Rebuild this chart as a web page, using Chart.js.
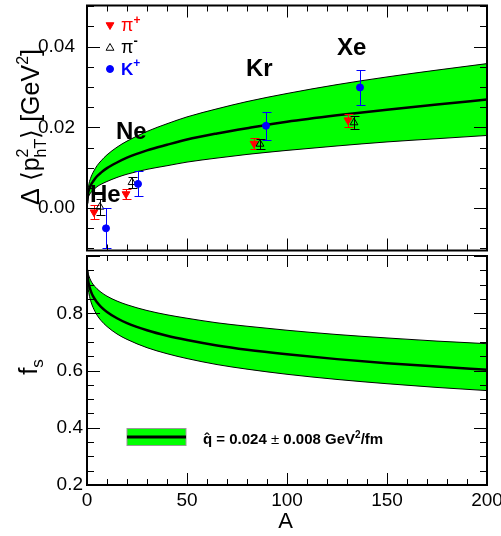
<!DOCTYPE html>
<html>
<head>
<meta charset="utf-8">
<script src="https://cdn.jsdelivr.net/npm/chart.js@4.4.0/dist/chart.umd.min.js"></script>
<style>
  html, body { margin: 0; padding: 0; background: #fff; }
  #wrap { position: relative; width: 501px; height: 536px; }
  #top { position: absolute; left: 0; top: 0; }
  #bot { position: absolute; left: 0; top: 255px; }
</style>
</head>
<body>
<div id="wrap">
  <canvas id="top" width="501" height="256"></canvas>
  <canvas id="bot" width="501" height="281"></canvas>
</div>
<script>
// Model band
const curveA = [0.1, 0.5, 1, 2, 3, 5, 7, 10, 15, 20, 30, 40, 50, 65, 80, 100, 125, 150, 175, 200];
const dptCentral = [0.0012, 0.0035, 0.0046, 0.0058, 0.0066, 0.0079, 0.0088, 0.0099, 0.0113, 0.0125, 0.0143, 0.0157, 0.0170, 0.0185, 0.0198, 0.0214, 0.0230, 0.0244, 0.0257, 0.0269];
const dptUpper = [0.0014, 0.0046, 0.0061, 0.0077, 0.0088, 0.0105, 0.0117, 0.0132, 0.0151, 0.0166, 0.0190, 0.0209, 0.0226, 0.0246, 0.0264, 0.0284, 0.0306, 0.0325, 0.0342, 0.0358];
const dptLower = [0.0010, 0.0024, 0.0031, 0.0039, 0.0044, 0.0053, 0.0059, 0.0066, 0.0076, 0.0084, 0.0096, 0.0105, 0.0114, 0.0124, 0.0133, 0.0143, 0.0154, 0.0164, 0.0172, 0.0180];
const fsCentral = [0.950, 0.918, 0.899, 0.876, 0.860, 0.839, 0.823, 0.805, 0.783, 0.766, 0.741, 0.722, 0.707, 0.688, 0.673, 0.657, 0.640, 0.626, 0.614, 0.603];
const fsUpper = [0.966, 0.943, 0.930, 0.913, 0.902, 0.886, 0.874, 0.860, 0.843, 0.830, 0.810, 0.795, 0.783, 0.767, 0.755, 0.741, 0.726, 0.714, 0.703, 0.694];
const fsLower = [0.934, 0.893, 0.868, 0.840, 0.821, 0.794, 0.775, 0.754, 0.728, 0.709, 0.680, 0.659, 0.642, 0.621, 0.605, 0.587, 0.569, 0.554, 0.541, 0.530];

// Measured points (He, Ne, Kr, Xe), slightly shifted in A for visibility
const nuclei = ['He', 'Ne', 'Kr', 'Xe'];
const piPlusA = [3.5, 19.5, 83.5, 130.5];
const piPlusVal = [-0.0010, 0.0035, 0.0160, 0.0218];
const piPlusErr = [0.0017, 0.0012, 0.0013, 0.0016];
const piMinusA = [6.5, 22.5, 86.5, 133.5];
const piMinusVal = [0.0003, 0.0064, 0.0159, 0.0212];
const piMinusErr = [0.0020, 0.0014, 0.0013, 0.0015];
const kPlusA = [9.5, 25.5, 89.5, 136.5];
const kPlusVal = [-0.0050, 0.0060, 0.0204, 0.0299];
const kPlusErr = [0.0050, 0.0031, 0.0034, 0.0043];

const FONT = "'Liberation Sans', Arial, Helvetica, sans-serif";
const GREEN = '#00ff00';

function isMult(v, step) {
  const r = v / step;
  return Math.abs(r - Math.round(r)) < 1e-6;
}
function pts(xs, ys) { return xs.map((x, i) => ({ x: x, y: ys[i] })); }

// draw a run of text pieces: {t, size, bold, dy, noAdv}
function richWidth(ctx, parts) {
  let w = 0;
  parts.forEach(p => {
    ctx.font = (p.bold ? 'bold ' : '') + p.size + 'px ' + FONT;
    if (!p.noAdv) w += ctx.measureText(p.t).width;
  });
  return w;
}
function richText(ctx, x, y, parts) {
  let cx = x;
  parts.forEach(p => {
    ctx.font = (p.bold ? 'bold ' : '') + p.size + 'px ' + FONT;
    ctx.fillText(p.t, cx, y + (p.dy || 0));
    if (!p.noAdv) cx += ctx.measureText(p.t).width;
  });
}

// frame with inward ticks on all four sides
function framePlugin(xMajor, yMajor) {
  return {
    id: 'frame',
    afterDraw(chart) {
      const { ctx, chartArea: a, scales: { x, y } } = chart;
      ctx.save();
      ctx.strokeStyle = '#000';
      ctx.lineWidth = 1;
      ctx.beginPath();
      x.ticks.forEach(t => {
        const p = Math.round(x.getPixelForValue(t.value)) + 0.5;
        const len = isMult(t.value, xMajor) ? 12 : 6;
        ctx.moveTo(p, a.top); ctx.lineTo(p, a.top + len);
        ctx.moveTo(p, a.bottom); ctx.lineTo(p, a.bottom - len);
      });
      y.ticks.forEach(t => {
        const p = Math.round(y.getPixelForValue(t.value)) + 0.5;
        const len = isMult(t.value, yMajor) ? 13 : 7;
        ctx.moveTo(a.left, p); ctx.lineTo(a.left + len, p);
        ctx.moveTo(a.right, p); ctx.lineTo(a.right - len, p);
      });
      ctx.stroke();
      ctx.lineWidth = 2;
      ctx.strokeRect(a.left, a.top, a.right - a.left, a.bottom - a.top);
      ctx.restore();
    }
  };
}

// vertical error bars drawn just before each marker set
const errorBars = {
  id: 'errorBars',
  beforeDatasetDraw(chart, args) {
    const ds = chart.data.datasets[args.index];
    if (!ds.errors) return;
    const { ctx, scales: { x, y } } = chart;
    ctx.save();
    ctx.strokeStyle = ds.pointBorderColor;
    ctx.lineWidth = 1;
    ctx.beginPath();
    ds.data.forEach((p, i) => {
      const px = Math.round(x.getPixelForValue(p.x)) + 0.5;
      const lo = Math.round(y.getPixelForValue(p.y - ds.errors[i])) + 0.5;
      const hi = Math.round(y.getPixelForValue(p.y + ds.errors[i])) + 0.5;
      ctx.moveTo(px, lo); ctx.lineTo(px, hi);
      ctx.moveTo(px - 4, lo); ctx.lineTo(px + 5, lo);
      ctx.moveTo(px - 4, hi); ctx.lineTo(px + 5, hi);
    });
    ctx.stroke();
    ctx.restore();
  }
};

const markerStyles = {
  piPlus: { pointStyle: 'triangle', rotation: 180, radius: 4.5, fill: '#ff0000', stroke: '#ff0000' },
  piMinus: { pointStyle: 'triangle', rotation: 0, radius: 4.5, fill: 'rgba(0,0,0,0)', stroke: '#000000' },
  kPlus: { pointStyle: 'circle', rotation: 0, radius: 3.5, fill: '#0000ff', stroke: '#0000ff' }
};

function markerSet(xs, ys, errs, st, order) {
  return {
    data: pts(xs, ys), errors: errs, showLine: false, order: order,
    pointStyle: st.pointStyle, pointRotation: st.rotation, pointRadius: st.radius,
    pointBackgroundColor: st.fill, pointBorderColor: st.stroke, pointBorderWidth: 1,
    borderColor: st.stroke, backgroundColor: st.fill
  };
}

function bandSets(up, lo, mid) {
  const common = { pointRadius: 0, cubicInterpolationMode: 'monotone', borderColor: '#000' };
  return [
    Object.assign({ data: pts(curveA, up), borderWidth: 1, backgroundColor: GREEN, fill: '+1', order: 5 }, common),
    Object.assign({ data: pts(curveA, lo), borderWidth: 1, fill: false, order: 4 }, common),
    Object.assign({ data: pts(curveA, mid), borderWidth: 2.5, fill: false, order: 3 }, common)
  ];
}

const topDecor = {
  id: 'topDecor',
  afterDraw(chart) {
    const ctx = chart.ctx;
    ctx.save();
    // legend markers
    const drawMark = (st, x, y) => {
      ctx.fillStyle = st.fill; ctx.strokeStyle = st.stroke; ctx.lineWidth = 1;
      Chart.helpers.drawPoint(ctx, { pointStyle: st.pointStyle, rotation: st.rotation, radius: st.radius, borderWidth: 1 }, x, y);
    };
    drawMark(markerStyles.piPlus, 110, 25);
    drawMark(markerStyles.piMinus, 110, 48);
    drawMark(markerStyles.kPlus, 110, 69);
    ctx.textBaseline = 'alphabetic';
    ctx.textAlign = 'left';
    ctx.fillStyle = '#ff0000';
    richText(ctx, 121, 30.5, [{ t: 'π', size: 18 }, { t: '+', size: 12, bold: true, dy: -7 }]);
    ctx.fillStyle = '#000';
    richText(ctx, 121, 52.5, [{ t: 'π', size: 18 }, { t: '-', size: 13, bold: true, dy: -8 }]);
    ctx.fillStyle = '#0000ff';
    richText(ctx, 121, 75, [{ t: 'K', size: 17, bold: true }, { t: '+', size: 12, bold: true, dy: -8 }]);

    // nucleus names
    ctx.fillStyle = '#000';
    ctx.font = 'bold 24px ' + FONT;
    const namePos = [[90, 201.5], [116, 139], [246, 75.5], [337, 55]];
    nuclei.forEach((n, i) => ctx.fillText(n, namePos[i][0], namePos[i][1]));

    // y title
    const parts = [
      { t: 'Δ ', size: 25 }, { t: '⟨', size: 25 }, { t: 'p', size: 25 },
      { t: '2', size: 16, dy: -11, noAdv: true }, { t: 'hT', size: 16, dy: 7 },
      { t: '⟩ [GeV', size: 25 }, { t: '2', size: 16, dy: -11 }, { t: ']', size: 25 }
    ];
    ctx.translate(39, 127);
    ctx.rotate(-Math.PI / 2);
    const w = richWidth(ctx, parts);
    richText(ctx, -w / 2, 0, parts);
    ctx.restore();
  }
};

const botDecor = {
  id: 'botDecor',
  afterDraw(chart) {
    const ctx = chart.ctx;
    ctx.save();
    // legend box
    ctx.fillStyle = GREEN;
    ctx.fillRect(127, 173.5, 59, 17);
    ctx.strokeStyle = '#999';
    ctx.lineWidth = 1;
    ctx.strokeRect(127, 173.5, 59, 17);
    ctx.fillStyle = '#000';
    ctx.fillRect(127, 180.5, 59, 3);
    ctx.textAlign = 'left';
    ctx.textBaseline = 'alphabetic';
    richText(ctx, 203, 189, [
      { t: 'q\u0302 = 0.024 ', size: 15, bold: true }, { t: '±', size: 15 },
      { t: ' 0.008 GeV', size: 15, bold: true }, { t: '2', size: 10, bold: true, dy: -6 },
      { t: '/fm', size: 15, bold: true }
    ]);
    // x title
    ctx.font = '22px ' + FONT;
    ctx.textAlign = 'center';
    ctx.fillText('A', 285.5, 273);
    // y title
    ctx.textAlign = 'left';
    ctx.translate(37, 112);
    ctx.rotate(-Math.PI / 2);
    const parts = [{ t: 'f', size: 26 }, { t: 's', size: 17, dy: 6 }];
    const w = richWidth(ctx, parts);
    richText(ctx, -w / 2, 0, parts);
    ctx.restore();
  }
};

const tickFont = { family: FONT, size: 19 };

new Chart(document.getElementById('top'), {
  type: 'line',
  data: {
    datasets: bandSets(dptUpper, dptLower, dptCentral).concat([
      markerSet(piPlusA, piPlusVal, piPlusErr, markerStyles.piPlus, 2),
      markerSet(piMinusA, piMinusVal, piMinusErr, markerStyles.piMinus, 1),
      markerSet(kPlusA, kPlusVal, kPlusErr, markerStyles.kPlus, 0)
    ])
  },
  options: {
    responsive: false, animation: false, events: [],
    layout: { padding: { top: 4, right: 14, bottom: 0, left: 0 } },
    plugins: { legend: { display: false }, tooltip: { enabled: false } },
    scales: {
      x: {
        type: 'linear', min: 0, max: 200,
        ticks: { display: false, stepSize: 10, autoSkip: false },
        grid: { display: false }, border: { display: false },
        afterFit(s) { s.height = 1; s.paddingLeft = 0; s.paddingRight = 0; }
      },
      y: {
        type: 'linear', min: -0.0105, max: 0.0502,
        ticks: {
          stepSize: 0.005, autoSkip: false, includeBounds: false, padding: 4, color: '#000', font: tickFont,
          callback: v => isMult(v, 0.02) ? v.toFixed(2) : ''
        },
        grid: { display: false }, border: { display: false },
        afterFit(s) { s.width = 87; s.paddingTop = 0; s.paddingBottom = 0; }
      }
    }
  },
  plugins: [framePlugin(50, 0.02), errorBars, topDecor]
});

new Chart(document.getElementById('bot'), {
  type: 'line',
  data: { datasets: bandSets(fsUpper, fsLower, fsCentral) },
  options: {
    responsive: false, animation: false, events: [],
    layout: { padding: { top: 0, right: 14, bottom: 0, left: 0 } },
    plugins: { legend: { display: false }, tooltip: { enabled: false } },
    scales: {
      x: {
        type: 'linear', min: 0, max: 200,
        ticks: {
          stepSize: 10, autoSkip: false, maxRotation: 0, padding: 4, color: '#000', font: tickFont,
          callback: v => isMult(v, 50) ? String(v) : ''
        },
        grid: { display: false, drawTicks: false }, border: { display: false },
        afterFit(s) { s.height = 51; s.paddingLeft = 0; s.paddingRight = 0; }
      },
      y: {
        type: 'linear', min: 0.2, max: 1.004,
        ticks: {
          stepSize: 0.05, autoSkip: false, includeBounds: false, padding: 4, color: '#000', font: tickFont,
          callback: v => (isMult(v, 0.2) && v < 0.95) ? v.toFixed(1) : ''
        },
        grid: { display: false, drawTicks: false }, border: { display: false },
        afterFit(s) { s.width = 87; s.paddingTop = 0; s.paddingBottom = 0; }
      }
    }
  },
  plugins: [framePlugin(50, 0.2), botDecor]
});
</script>
</body>
</html>
